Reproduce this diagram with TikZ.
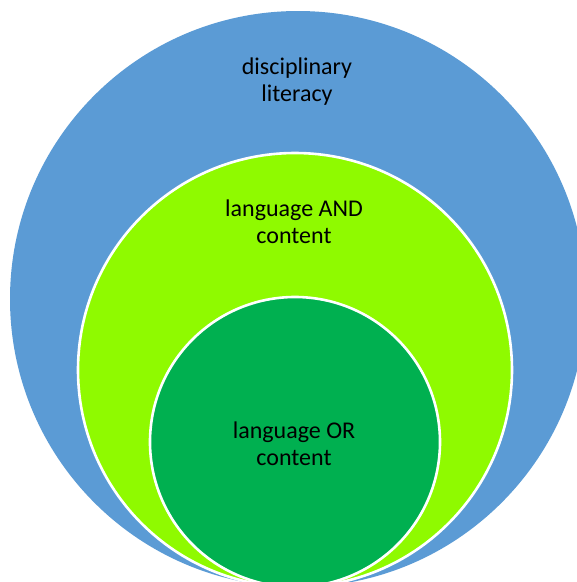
\documentclass[tikz,border=0pt]{standalone}
\usepackage{fontspec}
\setmainfont{Carlito}
\usepackage{xcolor}
\usepackage{tikz}
\usetikzlibrary{calc}
\definecolor{outerblue}{HTML}{5B9BD5}
\definecolor{midgreen}{HTML}{8FFA00}
\definecolor{innergreen}{HTML}{00B050}
\tikzset{
  ring/.style={draw=white, line width=2.6pt},
  lab/.style={text=black, align=center, font=\fontsize{24}{27}\selectfont},
}

\begin{document}
\begin{tikzpicture}[x=1pt,y=-1pt]
  \useasboundingbox (0,0) rectangle (577,582);
  \clip (0,0) rectangle (577,582);
  \coordinate (Co) at (298,299);
  \coordinate (Cm) at (295,370);
  \coordinate (Ci) at (295,442);

  \fill[outerblue] (Co) circle (288);
  \filldraw[ring, fill=midgreen] (Cm) circle (217);
  \filldraw[ring, fill=innergreen] (Ci) circle (145);

  \node[lab] (disc) at (297,82) {disciplinary\\literacy};
  \node[lab] (and) at (294,222) {language AND\\content};
  \node[lab] (or) at (294,444) {language OR\\content};
\end{tikzpicture}
\end{document}
